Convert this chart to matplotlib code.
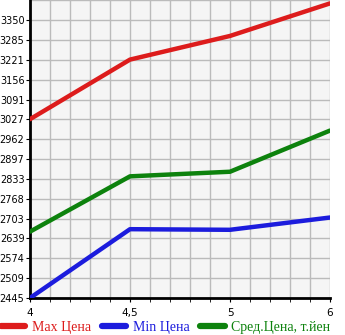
import numpy as np
import matplotlib.pyplot as plt
from matplotlib.lines import Line2D

years = ["4", "4,5", "5", "6"]
max_price = [3027, 3221, 3298, 3404]
min_price = [2445, 2669, 2667, 2707]
avg_price = [2661, 2841, 2856, 2990]

y_ticks = [2445, 2509, 2574, 2639, 2703, 2768, 2833, 2897, 2962, 3027, 3091, 3156, 3221, 3285, 3350]

pos = np.arange(len(years))

fig = plt.figure(figsize=(3.45, 3.35), dpi=100)
ax = fig.add_axes([30/345, 37/335, 300/345, 298/335])
ax.set_facecolor("#f5f5f5")

ax.plot(pos, max_price, color="#dd1c1c", lw=3.2, solid_capstyle="round", zorder=3)
ax.plot(pos, min_price, color="#1c1cdd", lw=3.2, solid_capstyle="round", zorder=3)
ax.plot(pos, avg_price, color="#0d820d", lw=3.2, solid_capstyle="round", zorder=3)

ax.set_xlim(0, 3)
ax.set_ylim(2445, 3415)
ax.set_xticks(pos)
ax.set_xticklabels(years)
ax.set_xticks(np.arange(0, 3.01, 0.2), minor=True)
ax.set_yticks(y_ticks)
ax.set_yticks(y_ticks + [3415], minor=True)
ax.grid(True, which="minor", color="#bbbbbb", lw=1)
ax.grid(True, which="major", color="#bbbbbb", lw=1)
ax.set_axisbelow(True)
for s in ["top", "right"]:
    ax.spines[s].set_visible(False)
ax.spines["left"].set_linewidth(2)
ax.spines["bottom"].set_linewidth(2)
ax.tick_params(axis="y", which="major", length=3, labelsize=7, pad=1)
ax.tick_params(axis="y", which="minor", length=0)
ax.tick_params(axis="x", which="both", length=3, labelsize=7.5, pad=4)

handles = [Line2D([], [], color="#dd1c1c", lw=4.5, solid_capstyle="round"),
           Line2D([], [], color="#1c1cdd", lw=4.5, solid_capstyle="round"),
           Line2D([], [], color="#0d820d", lw=4.5, solid_capstyle="round")]
labels = ["Max Цена", "Min Цена", "Сред.Цена, т.йен"]
leg = fig.legend(handles, labels, loc="lower center", bbox_to_anchor=(0.48, -0.035), ncol=3,
                 frameon=False, handlelength=1.75, columnspacing=0.8, handletextpad=0.45,
                 prop={"family": "Liberation Serif", "size": 10})
for t, c in zip(leg.get_texts(), ["#dd1c1c", "#1c1cdd", "#0d820d"]):
    t.set_color(c)

fig.savefig("out.png", dpi=100)
